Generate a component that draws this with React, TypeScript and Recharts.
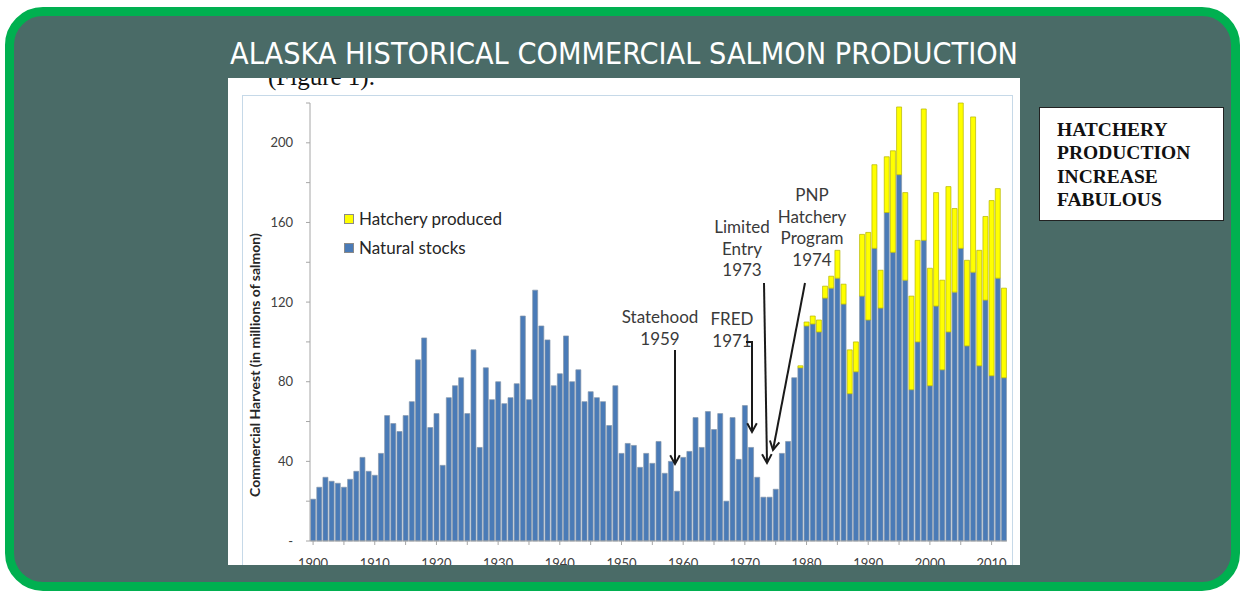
import { BarChart, Bar, XAxis, YAxis, Legend } from "recharts";

const years = [
  "1900", "1901", "1902", "1903", "1904", "1905", "1906", "1907", "1908", "1909",
  "1910", "1911", "1912", "1913", "1914", "1915", "1916", "1917", "1918", "1919",
  "1920", "1921", "1922", "1923", "1924", "1925", "1926", "1927", "1928", "1929",
  "1930", "1931", "1932", "1933", "1934", "1935", "1936", "1937", "1938", "1939",
  "1940", "1941", "1942", "1943", "1944", "1945", "1946", "1947", "1948", "1949",
  "1950", "1951", "1952", "1953", "1954", "1955", "1956", "1957", "1958", "1959",
  "1960", "1961", "1962", "1963", "1964", "1965", "1966", "1967", "1968", "1969",
  "1970", "1971", "1972", "1973", "1974", "1975", "1976", "1977", "1978", "1979",
  "1980", "1981", "1982", "1983", "1984", "1985", "1986", "1987", "1988", "1989",
  "1990", "1991", "1992", "1993", "1994", "1995", "1996", "1997", "1998", "1999",
  "2000", "2001", "2002", "2003", "2004", "2005", "2006", "2007", "2008", "2009",
  "2010", "2011", "2012",
];

// millions of fish
const natural = [
  21, 27, 32, 30, 29, 27, 31, 35, 42, 35,
  33, 44, 63, 59, 55, 63, 70, 91, 102, 57,
  64, 38, 72, 78, 82, 64, 96, 47, 87, 71,
  80, 69, 72, 79, 113, 71, 126, 108, 101, 78,
  84, 103, 80, 86, 70, 75, 72, 70, 58, 78,
  44, 49, 48, 37, 44, 39, 50, 34, 40, 25,
  42, 45, 62, 47, 65, 56, 64, 20, 62, 41,
  68, 47, 32, 22, 22, 26, 44, 50, 82, 87,
  108, 109, 105, 122, 127, 132, 119, 74, 85, 123,
  111, 147, 117, 165, 145, 184, 131, 76, 100, 151,
  78, 118, 86, 105, 125, 147, 98, 135, 88, 121,
  83, 132, 82,
];

const hatchery = [
  0, 0, 0, 0, 0, 0, 0, 0, 0, 0,
  0, 0, 0, 0, 0, 0, 0, 0, 0, 0,
  0, 0, 0, 0, 0, 0, 0, 0, 0, 0,
  0, 0, 0, 0, 0, 0, 0, 0, 0, 0,
  0, 0, 0, 0, 0, 0, 0, 0, 0, 0,
  0, 0, 0, 0, 0, 0, 0, 0, 0, 0,
  0, 0, 0, 0, 0, 0, 0, 0, 0, 0,
  0, 0, 0, 0, 0, 0, 0, 0, 0, 1,
  2, 4, 6, 6, 6, 14, 10, 22, 15, 31,
  44, 42, 19, 28, 51, 34, 44, 47, 51, 66,
  59, 57, 45, 73, 42, 73, 43, 78, 58, 42,
  88, 45, 45,
];

const xTicks = [
  "1900", "1905", "1910", "1915", "1920", "1925", "1930", "1935", "1940", "1945",
  "1950", "1955", "1960", "1965", "1970", "1975", "1980", "1985", "1990", "1995",
  "2000", "2005", "2010",
];
const yTicks = [0, 20, 40, 60, 80, 100, 120, 140, 160, 180, 200, 220];

const data = years.map((year, i) => ({
  year,
  natural: natural[i],
  hatchery: hatchery[i],
}));

const FONT = "Lato, 'Open Sans', sans-serif";
const AXIS = "#a6a6a6";

function XTick({ x, y, payload }: any) {
  if (!String(payload.value).endsWith("0")) return <g />;
  return (
    <text x={x} y={y + 21} textAnchor="middle" fontSize={13} fill="#404040" fontFamily={FONT}>
      {payload.value}
    </text>
  );
}

function YTick({ x, y, payload }: any) {
  const v = payload.value;
  if (v % 40 !== 0 || v > 200) return <g />;
  return (
    <text x={x - 11} y={y} dy="0.35em" textAnchor="end" fontSize={13} fill="#404040" fontFamily={FONT}>
      {v === 0 ? "-" : v}
    </text>
  );
}

// hatchery on top, natural below
function LegendBox({ payload }: any) {
  const items = [...(payload ?? [])].sort((a: any, b: any) =>
    a.dataKey === "hatchery" ? -1 : b.dataKey === "hatchery" ? 1 : 0
  );
  return (
    <div style={{ fontFamily: FONT, fontSize: 17, color: "#262626" }}>
      {items.map((item: any) => (
        <div key={item.value} style={{ display: "flex", alignItems: "center", height: 29 }}>
          <span
            style={{
              width: 8,
              height: 8,
              background: item.color,
              border: "1px solid #8a8a8a",
              marginRight: 5,
              display: "inline-block",
            }}
          />
          <span>{item.value}</span>
        </div>
      ))}
    </div>
  );
}

// arrow with a V head, page pixel coords
function Arrow({ x1, y1, x2, y2 }: { x1: number; y1: number; x2: number; y2: number }) {
  const a = Math.atan2(y2 - y1, x2 - x1);
  const len = 10;
  const spread = 0.5;
  const h1x = x2 - len * Math.cos(a - spread);
  const h1y = y2 - len * Math.sin(a - spread);
  const h2x = x2 - len * Math.cos(a + spread);
  const h2y = y2 - len * Math.sin(a + spread);
  return (
    <g stroke="#1a1a1a" strokeWidth={2} fill="none">
      <line x1={x1} y1={y1} x2={x2} y2={y2} />
      <polyline points={`${h1x},${h1y} ${x2},${y2} ${h2x},${h2y}`} />
    </g>
  );
}

function Note({ x, y, lines }: { x: number; y: number; lines: string[] }) {
  return (
    <text x={x} y={y} textAnchor="middle" fontSize={17} fill="#3a3a3a" fontFamily={FONT}>
      {lines.map((l, i) => (
        <tspan key={l} x={x} dy={i === 0 ? 0 : 21.5}>
          {l}
        </tspan>
      ))}
    </text>
  );
}

export default function App() {
  return (
    <div style={{ position: "absolute", left: 0, top: 0, width: 1244, height: 592, background: "#fff", overflow: "hidden" }}>
      <div
        style={{
          position: "absolute",
          left: 5,
          top: 7,
          width: 1235,
          height: 584,
          boxSizing: "border-box",
          border: "9px solid #00b050",
          borderRadius: 38,
          background: "#4a6b67",
        }}
      />
      <svg width={1244} height={80} style={{ position: "absolute", left: 0, top: 0 }}>
        <text
          x={230}
          y={64}
          textLength={788}
          lengthAdjust="spacingAndGlyphs"
          fontSize={31}
          fill="#ffffff"
          fontFamily="'DejaVu Sans Condensed', 'DejaVu Sans', sans-serif"
        >
          ALASKA HISTORICAL COMMERCIAL SALMON PRODUCTION
        </text>
      </svg>

      {/* white figure panel */}
      <div
        style={{
          position: "absolute",
          left: 228,
          top: 78,
          width: 792,
          height: 487,
          background: "#fff",
          overflow: "hidden",
        }}
      >
        <div
          style={{
            position: "absolute",
            left: 40,
            top: -15,
            fontFamily: "'Liberation Serif', serif",
            fontSize: 25,
            color: "#111",
            whiteSpace: "nowrap",
          }}
        >
          (Figure 1).
        </div>
        <div
          style={{
            position: "absolute",
            left: 14,
            top: 17,
            width: 769,
            height: 500,
            border: "1px solid #c6d9e8",
          }}
        />
        <div style={{ position: "absolute", left: 0, top: 0 }}>
          <BarChart
            width={792}
            height={487}
            data={data}
            margin={{ top: 25, right: 13, left: 0, bottom: 0 }}
            barCategoryGap="10%"
          >
            <XAxis
              dataKey="year"
              ticks={xTicks}
              interval={0}
              height={24}
              tick={XTick}
              tickSize={4}
              stroke={AXIS}
              tickLine={{ stroke: AXIS }}
            />
            <YAxis
              width={82}
              domain={[0, 220]}
              ticks={yTicks}
              interval={0}
              tick={YTick}
              tickSize={4}
              stroke={AXIS}
              tickLine={{ stroke: AXIS }}
              label={{
                content: () => (
                  <text
                    transform="translate(32,287) rotate(-90)"
                    textAnchor="middle"
                    fontSize={14}
                    fontWeight="bold"
                    fill="#262626"
                    fontFamily={FONT}
                  >
                    Commercial Harvest (in millions of salmon)
                  </text>
                ),
              }}
            />
            <Legend
              layout="horizontal"
              verticalAlign="middle"
              align="center"
              content={LegendBox}
              wrapperStyle={{ position: "absolute", left: 116, top: 126, width: "auto", height: "auto" }}
            />
            <Bar
              dataKey="natural"
              name="Natural stocks"
              stackId="a"
              fill="#4a7bb7"
              stroke="#8596ab"
              strokeWidth={0.7}
              isAnimationActive={false}
            />
            <Bar
              dataKey="hatchery"
              name="Hatchery produced"
              stackId="a"
              fill="#ffff00"
              stroke="#b5b500"
              strokeWidth={0.7}
              isAnimationActive={false}
            />
          </BarChart>
        </div>
      </div>

      {/* annotations */}
      <svg width={1244} height={592} style={{ position: "absolute", left: 0, top: 0, pointerEvents: "none" }}>
        <Note x={660} y={323} lines={["Statehood", "1959"]} />
        <Arrow x1={675} y1={350} x2={675} y2={464} />
        <Note x={732} y={325} lines={["FRED", "1971"]} />
        <polyline points="746,342 752,342 752,344" stroke="#1a1a1a" strokeWidth={2} fill="none" />
        <Arrow x1={752} y1={343} x2={752} y2={432} />
        <Note x={742} y={233} lines={["Limited", "Entry", "1973"]} />
        <Arrow x1={764} y1={283} x2={767} y2={463} />
        <Note x={812} y={201} lines={["PNP", "Hatchery", "Program", "1974"]} />
        <Arrow x1={805} y1={283} x2={773} y2={450} />
      </svg>

      {/* text box */}
      <div
        style={{
          position: "absolute",
          left: 1039,
          top: 107,
          width: 185,
          height: 114,
          boxSizing: "border-box",
          background: "#fff",
          border: "1.5px solid #222",
          paddingLeft: 17,
          paddingTop: 10,
          fontFamily: "'Liberation Serif', 'Times New Roman', serif",
          fontWeight: "bold",
          fontSize: 19.5,
          lineHeight: "23.4px",
          color: "#111",
        }}
      >
        HATCHERY
        <br />
        PRODUCTION
        <br />
        INCREASE
        <br />
        FABULOUS
      </div>
    </div>
  );
}
